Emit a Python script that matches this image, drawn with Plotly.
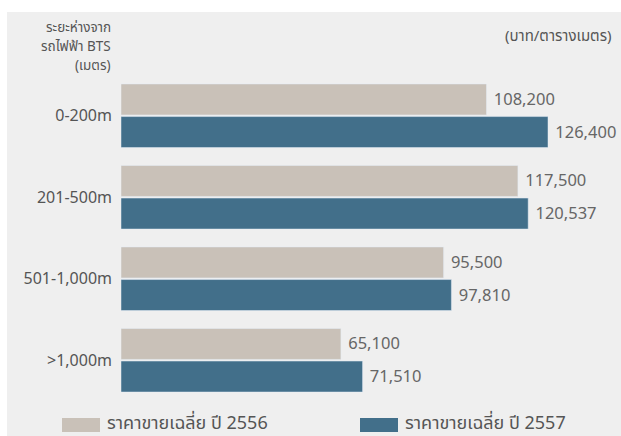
import plotly.graph_objects as go

# distance from BTS station
categories = ['0-200m', '201-500m', '501-1,000m', '>1,000m']
price_2556 = [108200, 117500, 95500, 65100]
price_2557 = [126400, 120537, 97810, 71510]
name_2556 = 'ราคาขายเฉลี่ย ปี 2556'
name_2557 = 'ราคาขายเฉลี่ย ปี 2557'
axis_title = ['ระยะห่างจาก', 'รถไฟฟ้า BTS', '(เมตร)']
unit_label = '(บาท/ตารางเมตร)'

W, H = 621, 436
L, R, T, B = 121, 10, 75, 35
pw, ph = W - L - R, H - T - B

GRAY = '#c9c1b8'
BLUE = '#426f8a'
FONT = 'Noto Sans Thai, Noto Sans, DejaVu Sans, sans-serif'


def px(x):
    return (x - L) / pw


def py(y):
    return (H - B - y) / ph


fig = go.Figure()
for vals, color, name in [(price_2556, GRAY, name_2556), (price_2557, BLUE, name_2557)]:
    fig.add_trace(go.Bar(y=categories, x=vals, orientation='h', name=name,
                         marker_color=color, text=['\u00a0' + f'{v:,}' for v in vals],
                         textposition='outside', cliponaxis=False,
                         textfont=dict(color='#666666', size=16.5)))

shapes = [dict(type='rect', xref='paper', yref='paper', x0=px(7), x1=px(W + 5),
               y0=py(12), y1=py(H + 5), fillcolor='#efefef', line_width=0, layer='below')]
annotations = [dict(text=unit_label, x=px(613), y=py(36), xanchor='right', yanchor='middle',
                    showarrow=False, font=dict(size=15, color='#555555'))]
for line, yc in zip(axis_title, [28, 47, 66]):
    annotations.append(dict(text=line, x=px(113), y=py(yc), xanchor='right', yanchor='middle',
                            showarrow=False, font=dict(size=13.5, color='#555555')))
for x0, color, name in [(62, GRAY, name_2556), (360, BLUE, name_2557)]:
    shapes.append(dict(type='rect', xref='paper', yref='paper', x0=px(x0), x1=px(x0 + 38),
                       y0=py(432), y1=py(418), fillcolor=color, line_width=0))
    annotations.append(dict(text=name, x=px(x0 + 43), y=py(423), xanchor='left', yanchor='middle',
                            showarrow=False, font=dict(size=18, color='#555555')))
for a in annotations:
    a.update(xref='paper', yref='paper')

fig.update_layout(
    width=W, height=H, margin=dict(l=L, r=R, t=T, b=B),
    paper_bgcolor='white', plot_bgcolor='rgba(0,0,0,0)',
    barmode='group', bargap=0.2, bargroupgap=0.05,
    showlegend=False, font=dict(family=FONT, color='#555555'),
    xaxis=dict(range=[0, pw * 126400 / 427], visible=False),
    yaxis=dict(autorange='reversed', showgrid=False, zeroline=False, showline=False,
               ticks='', ticklabelstandoff=8, tickfont=dict(size=16, color='#555555')),
    shapes=shapes, annotations=annotations,
)
fig.write_html('out.html', config={'displayModeBar': False},
               post_script="document.body.style.margin='0';")
